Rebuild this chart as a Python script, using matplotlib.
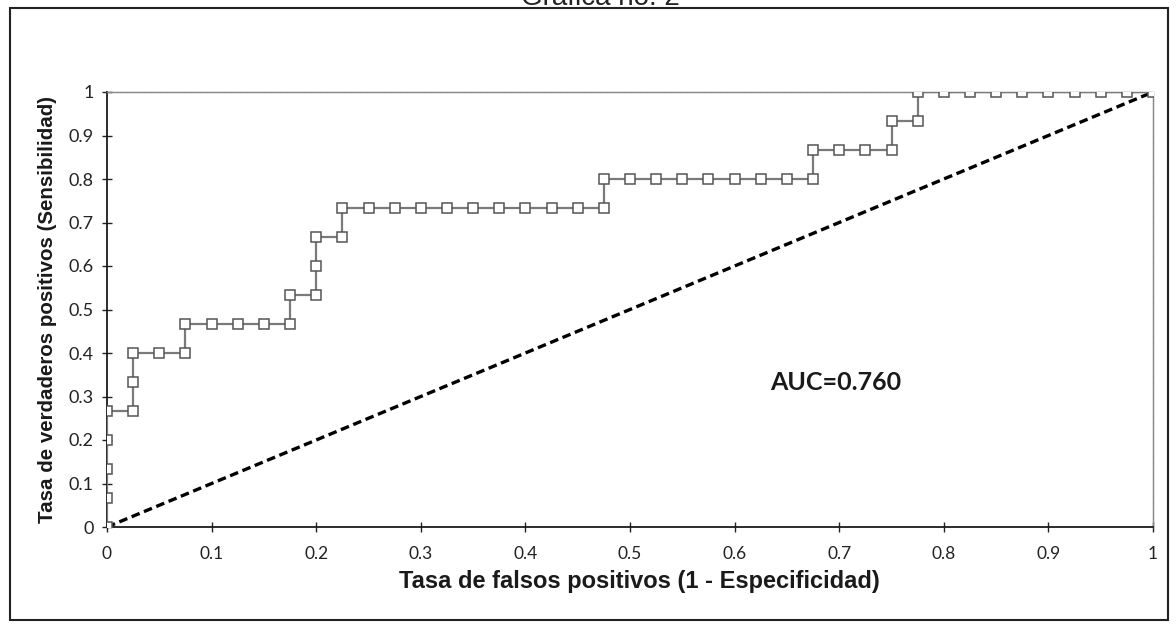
"""ROC curve (Gráfica no. 2) redrawn from a scanned report."""

import matplotlib

matplotlib.use("Agg")
import matplotlib.pyplot as plt
from matplotlib.patches import Rectangle

# ROC points: false positive rate (1 - specificity) and true positive rate (sensitivity)
FPR = [
    0.0, 0.0, 0.0, 0.0, 0.0,
    0.025, 0.025, 0.025,
    0.05, 0.075, 0.075,
    0.1, 0.125, 0.15, 0.175, 0.175,
    0.2, 0.2, 0.2,
    0.225, 0.225,
    0.25, 0.275, 0.3, 0.325, 0.35, 0.375, 0.4, 0.425, 0.45, 0.475, 0.475,
    0.5, 0.525, 0.55, 0.575, 0.6, 0.625, 0.65, 0.675, 0.675,
    0.7, 0.725, 0.75, 0.75,
    0.775, 0.775,
    0.8, 0.825, 0.85, 0.875, 0.9, 0.925, 0.95, 0.975, 1.0,
]
TPR = [
    0.0, 0.067, 0.133, 0.2, 0.267,
    0.267, 0.333, 0.4,
    0.4, 0.4, 0.467,
    0.467, 0.467, 0.467, 0.467, 0.533,
    0.533, 0.6, 0.667,
    0.667, 0.733,
    0.733, 0.733, 0.733, 0.733, 0.733, 0.733, 0.733, 0.733, 0.733, 0.733, 0.8,
    0.8, 0.8, 0.8, 0.8, 0.8, 0.8, 0.8, 0.8, 0.867,
    0.867, 0.867, 0.867, 0.933,
    0.933, 1.0,
    1.0, 1.0, 1.0, 1.0, 1.0, 1.0, 1.0, 1.0, 1.0,
]
REFERENCE = [0.0, 1.0]
AUC_LABEL = "AUC=0.760"

TICKS = [0, 0.1, 0.2, 0.3, 0.4, 0.5, 0.6, 0.7, 0.8, 0.9, 1]
TICK_LABELS = ["0", "0.1", "0.2", "0.3", "0.4", "0.5", "0.6", "0.7", "0.8", "0.9", "1"]

TITLE = "Gráfica no. 2"
XLABEL = "Tasa de falsos positivos (1 - Especificidad)"
YLABEL = "Tasa de verdaderos positivos (Sensibilidad)"

W, H = 1176, 626


def main() -> None:
    fig = plt.figure(figsize=(W / 100, H / 100), dpi=100)
    fig.patch.set_facecolor("white")
    ax = fig.add_axes([107 / W, 1 - 527 / H, (1153 - 107) / W, (527 - 92) / H])

    ax.plot(REFERENCE, REFERENCE, color="black", lw=2.4, linestyle=(0, (2.6, 1.4)), zorder=2)
    ax.plot(FPR, TPR, color="#7a7a7a", lw=1.6, marker="s", markersize=6.5,
            markerfacecolor="white", markeredgecolor="#555555", markeredgewidth=1.1, zorder=3)

    ax.set_xlim(0, 1)
    ax.set_ylim(0, 1)
    ax.set_xticks(TICKS, TICK_LABELS)
    ax.set_yticks(TICKS, TICK_LABELS)
    ax.tick_params(direction="inout", length=7, width=1, color="#222222",
                   labelcolor="#222222")
    ax.tick_params(axis="x", pad=10, labelsize=12.5)
    ax.tick_params(axis="y", pad=6, labelsize=13)
    for lab in ax.get_xticklabels() + ax.get_yticklabels():
        lab.set_family("Lato")

    for side in ("left", "bottom"):
        ax.spines[side].set_color("#1a1a1a")
        ax.spines[side].set_linewidth(1.3)
    for side in ("top", "right"):
        ax.spines[side].set_color("#8a8a8a")
        ax.spines[side].set_linewidth(1.0)
        ax.spines[side].set_linestyle((0, (1, 0.6)))

    span_x = 1153 - 107
    span_y = 527 - 92
    ax.set_xlabel(XLABEL, family="Liberation Sans", fontweight="bold", fontsize=17,
                  color="#1a1a1a")
    ax.xaxis.set_label_coords((639 - 107) / span_x, -(570 - 527) / span_y)
    ax.set_ylabel(YLABEL, family="Liberation Sans", fontweight="bold", fontsize=14.8,
                  color="#1a1a1a")
    ax.yaxis.set_label_coords(-(107 - 57) / span_x, 0.5)

    ax.text(0.697, 0.333, AUC_LABEL, family="Lato", fontweight="bold", fontsize=18,
            color="#1a1a1a", ha="center", va="center")

    # outer frame and the cut-off title of the scanned page
    fig.patches.append(Rectangle((10 / W, 1 - 620 / H), (1168 - 10) / W, (620 - 8) / H,
                                 transform=fig.transFigure, fill=False,
                                 edgecolor="#222222", linewidth=1.5))
    fig.text(600 / W, 1 - 5 / H, TITLE, family="Liberation Sans", fontsize=20,
             color="#222222", ha="center", va="baseline")

    fig.savefig("out.png", dpi=100)


if __name__ == "__main__":
    main()
